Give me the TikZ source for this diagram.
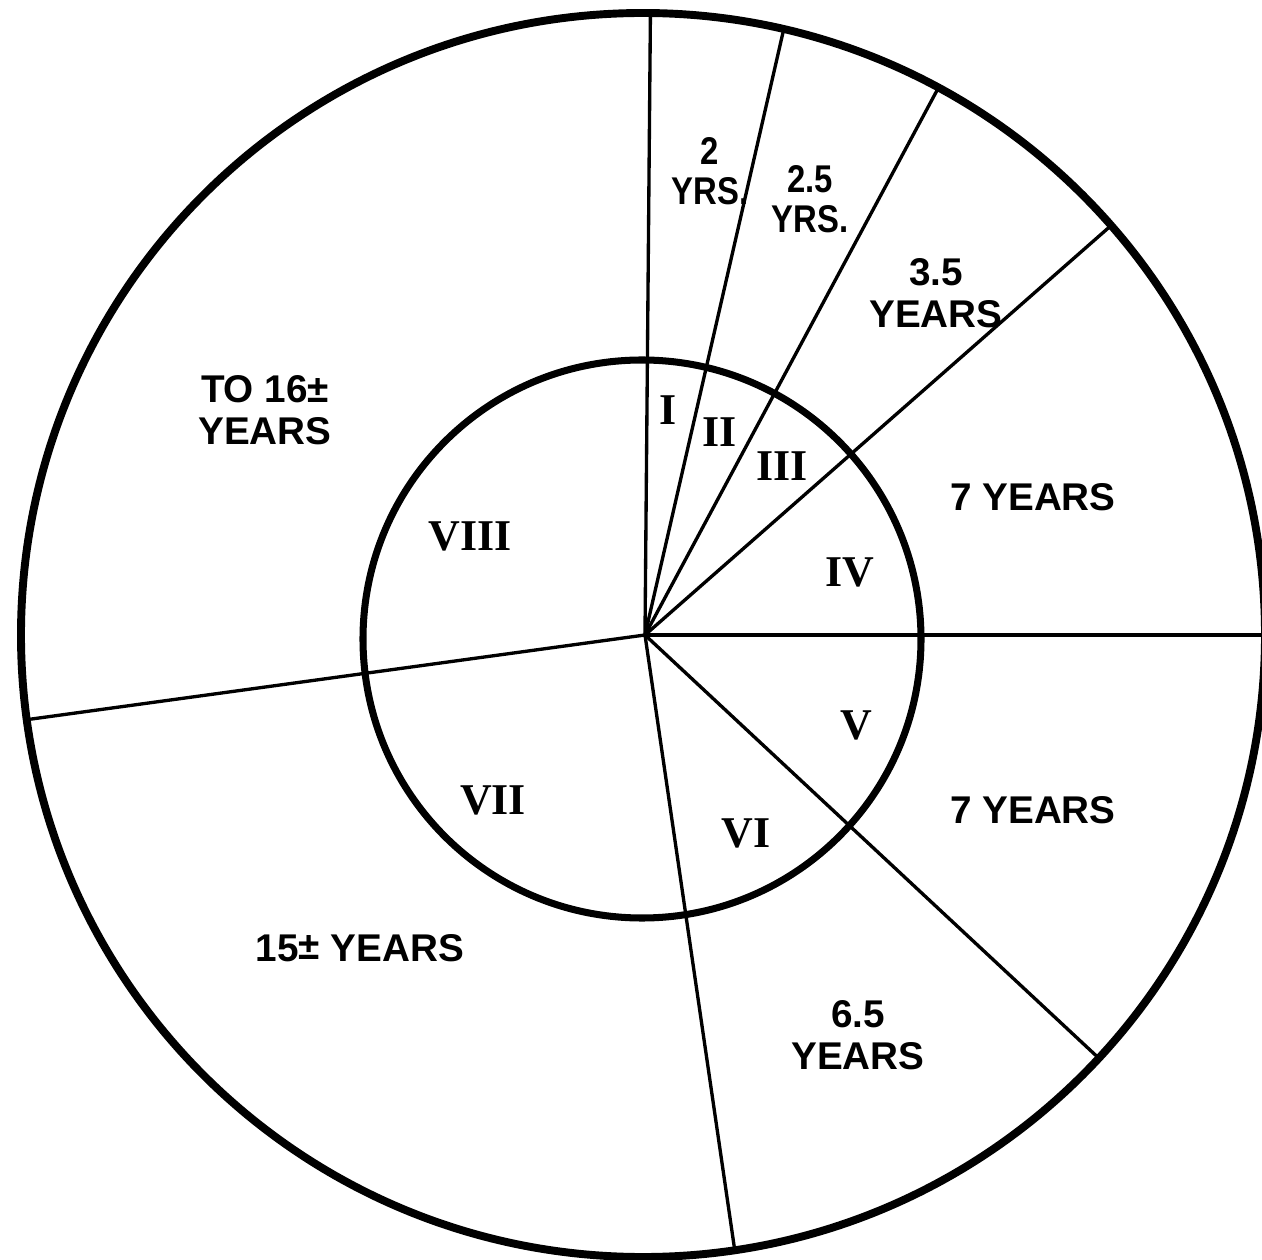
\documentclass[tikz,border=0pt]{standalone}
\usepackage{fontspec}
\setmainfont{Liberation Sans}
\newfontfamily\romfont{Liberation Serif}
\usepackage{tikz}

\begin{document}
\begin{tikzpicture}[
    yrs/.style={font=\bfseries\fontsize{22}{24}\selectfont, align=center},
    yrsnarrow/.style={font=\bfseries\addfontfeature{FakeStretch=0.85}\fontsize{22}{22.5}\selectfont, align=center},
    rom/.style={font=\romfont\bfseries\fontsize{25}{25}\selectfont},
    spoke/.style={line width=1.9pt},
    ring/.style={line width=4.5pt}]
	\useasboundingbox (-12.9,-12.48) rectangle (12.34,12.7);
	% rings
	\draw[ring] (-0.04,0) circle (12.44);
	\draw[ring,line width=4pt] (-0.06,-0.08) circle (5.58);
	% spokes
	\coordinate (c) at (0,0);
	\foreach \a [count=\i] in {89.5,77.1,61.8,41.3,0,-43,-81.7,187.8}
		\coordinate (s\i) at (\a:12.45);
	\foreach \i in {1,...,8}
		\draw[spoke] (c) -- (s\i);
	% outer labels
	\node[yrsnarrow] (l1) at (1.3,9.28) {2\\YRS.};
	\node[yrsnarrow] (l2) at (3.3,8.72) {2.5\\YRS.};
	\node[yrs] (l3) at (5.82,6.84) {3.5\\YEARS};
	\node[yrs] (l4) at (7.76,2.76) {7 YEARS};
	\node[yrs] (l5) at (7.76,-3.5) {7 YEARS};
	\node[yrs] (l6) at (4.26,-8.0) {6.5\\YEARS};
	\node[yrs] (l7) at (-5.7,-6.26) {15\raisebox{1pt}{±} YEARS};
	\node[yrs] (l8) at (-7.6,4.5) {TO 16±\\YEARS};
	% inner numerals
	\node[rom] (r1) at (0.46,4.5) {I};
	\node[rom] (r2) at (1.5,4.06) {II};
	\node[rom] (r3) at (2.74,3.38) {III};
	\node[rom] (r4) at (4.1,1.26) {IV};
	\node[rom] (r5) at (4.22,-1.8) {V};
	\node[rom] (r6) at (2.02,-3.96) {VI};
	\node[rom] (r7) at (-3.04,-3.3) {VII};
	\node[rom] (r8) at (-3.5,1.98) {VIII};
\end{tikzpicture}
\end{document}
